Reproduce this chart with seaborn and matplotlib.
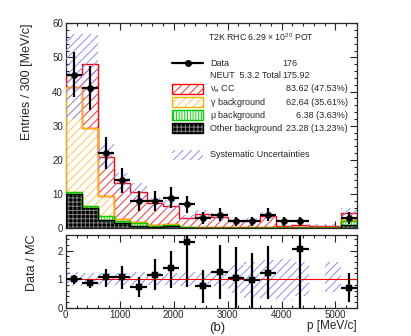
import numpy as np
import seaborn as sns
import matplotlib
matplotlib.use("Agg")
import matplotlib.pyplot as plt
from matplotlib.patches import Rectangle
from matplotlib.lines import Line2D
from matplotlib.ticker import MultipleLocator

# bins of reconstructed momentum (MeV/c)
bin_edges = [0, 300, 600, 900, 1200, 1500, 1800, 2100, 2400, 2700, 3000,
             3300, 3600, 3900, 4200, 4500, 4800, 5100, 5400]

# observed events and their errors
data = [45, 41, 22, 14, 8, 8, 9, 7, 3, 4, 2, 2, 4, 2, 2, 0, 0, 3]
data_err = [6.7, 6.4, 4.7, 3.7, 2.8, 2.8, 3.0, 2.6, 1.7, 2.0, 1.4, 1.4,
            2.0, 1.4, 1.4, 0, 0, 1.7]

# MC prediction, by component (stack order bottom -> top)
other_bkg = [10.0, 6.0, 2.4, 1.5, 0.8, 0.3, 0.6, 0.1, 0.1, 0.1, 0.1, 0.1,
             0.1, 0.1, 0.1, 0.1, 0.1, 1.1]
mu_bkg = [0.5, 0.5, 1.1, 0.5, 0.7, 0.3, 0.5, 0.2, 0.1, 0.1, 0.1, 0.1,
          0.1, 0.1, 0.1, 0.1, 0.1, 1.0]
gamma_bkg = [31.0, 23.0, 6.0, 0.6, 0.3, 0.3, 0.2, 0.1, 0.1, 0.1, 0.1, 0.1,
             0.1, 0.1, 0.1, 0.1, 0.1, 0.3]
nue_cc = [3.5, 18.5, 11.5, 10.8, 8.9, 6.4, 5.3, 2.7, 3.9, 3.1, 1.7, 1.8,
          3.2, 0.3, 0.7, 0.5, 0.5, 2.2]

# systematic uncertainty band on the total prediction
sys_lo = [32, 38, 17.5, 10.8, 8.3, 5.6, 5.0, 2.3, 3.0, 2.5, 1.3, 1.3,
          2.4, 0.3, 0.5, 0.4, 0.4, 3.4]
sys_hi = [57, 57, 24.7, 16.1, 13.3, 9.0, 8.2, 3.9, 5.5, 4.4, 2.7, 2.9,
          4.9, 0.9, 1.4, 1.2, 1.2, 6.0]

# ratio panel
ratio = [1.0, 0.86, 1.06, 1.07, 0.74, 1.13, 1.39, 2.3, 0.75, 1.25, 1.05,
         0.97, 1.22, np.nan, 2.07, np.nan, np.nan, 0.7]
ratio_lo = [0.83, 0.70, 0.74, 0.66, 0.39, 0.62, 0.68, 0.72, 0.18, 0.32, 0.0,
            0.0, 0.32, np.nan, 0.0, np.nan, np.nan, 0.2]
ratio_hi = [1.16, 0.98, 1.37, 1.48, 1.09, 1.71, 2.0, 2.6, 1.32, 2.2, 2.12,
            1.93, 2.17, np.nan, 2.6, np.nan, np.nan, 1.2]
rsys_lo = [0.75, 0.78, 0.8, 0.8, 0.78, 0.78, 0.78, 0.76, 0.76, 0.76, 0.5,
           0.35, 0.3, 0.28, 0.4, np.nan, 0.55, np.nan]
rsys_hi = [1.25, 1.22, 1.2, 1.22, 1.24, 1.22, 1.22, 1.24, 1.25, 1.25, 1.5,
           1.6, 1.68, 1.7, 1.6, np.nan, 1.62, np.nan]

legend_rows = [
    ("Data", "176"),
    ("NEUT  5.3.2 Total", "175.92"),
    (r"$\mathregular{\nu_e}$ CC", "83.62 (47.53%)"),
    (r"$\mathregular{\gamma}$ background", "62.64 (35.61%)"),
    (r"$\mathregular{\mu}$ background", "6.38 (3.63%)"),
    ("Other background", "23.28 (13.23%)"),
]

sns.set_style("ticks")
plt.rcParams["font.family"] = ["Liberation Sans", "DejaVu Sans"]
plt.rcParams["hatch.linewidth"] = 0.7
plt.rcParams["mathtext.fontset"] = "custom"
plt.rcParams["mathtext.rm"] = "Liberation Sans"

edges = np.array(bin_edges)
lefts = edges[:-1]
width = 300
centers = lefts + width / 2
SYS = "#8c8cff"

# (values, hatch colour, line colour, hatch, face)
layers = [
    (other_bkg, "0.5", "black", "++++", "black"),
    (mu_bkg, "#00dd00", "#00cc00", "||||||", "white"),
    (gamma_bkg, "#ffc860", "#ffb000", "////", "white"),
    (nue_cc, "#ff3030", "red", "////", "white"),
]

fig = plt.figure(figsize=(4.11, 3.36), dpi=100)
ax = fig.add_axes([0.16, 0.3205, 0.7088, 0.6102])
ax2 = fig.add_axes([0.16, 0.0842, 0.7088, 0.2164])

# stacked MC
bottom = np.zeros(len(lefts))
boxes = []
for vals, hcol, lcol, hatch, face in layers:
    top = bottom + np.array(vals)
    boxes.append((bottom.copy(), top, hcol, lcol, hatch, face))
    bottom = top
for bot, top, hcol, lcol, hatch, face in reversed(boxes):
    ax.stairs(top, edges, baseline=bot, fill=True, facecolor=face,
              edgecolor=hcol, hatch=hatch, linewidth=0, zorder=2)
    ax.stairs(top, edges, baseline=bot, fill=False, edgecolor=lcol,
              linewidth=1.0, zorder=3)

# systematics
ax.stairs(sys_hi, edges, baseline=sys_lo, fill=True, facecolor="none",
          edgecolor=SYS, hatch="////", linewidth=0, zorder=4)

# data points
d = np.array(data, dtype=float)
mask = d > 0
ax.errorbar(centers[mask], d[mask], xerr=width / 2,
            yerr=np.array(data_err)[mask], fmt="none", ecolor="black",
            elinewidth=1.6, capsize=0, zorder=5)
sns.scatterplot(x=centers[mask], y=d[mask], color="black", marker="o",
                s=20, edgecolor="black", ax=ax, zorder=6)

ax.set_xlim(0, 5400)
ax.set_ylim(0, 60)
ax.xaxis.set_major_locator(MultipleLocator(1000))
ax.xaxis.set_minor_locator(MultipleLocator(200))
ax.yaxis.set_major_locator(MultipleLocator(10))
ax.yaxis.set_minor_locator(MultipleLocator(2))
ax.tick_params(labelbottom=False)
ax.set_ylabel("Entries / 300 [MeV/c]", fontsize=9, loc="top")
ax.yaxis.set_label_coords(-0.112, 1.0)

# legend, drawn by hand to keep the two text columns
tr = ax.transAxes
ax.text(0.488, 0.933, r"T2K RHC 6.29 $\mathregular{\times}$ 10$^{\mathregular{20}}$ POT",
        transform=tr, fontsize=6.3, va="center")
row_y = [0.806, 0.743, 0.680, 0.616, 0.552, 0.489]
bx0, bx1, bh = 0.365, 0.471, 0.05
for i, (name, val) in enumerate(legend_rows):
    y = row_y[i]
    ax.text(0.495, y, name, transform=tr, fontsize=6.5, va="center")
    if i < 2:
        ax.text(0.743, y, val, transform=tr, fontsize=6.5, va="center")
    else:
        ax.text(0.968, y, val, transform=tr, fontsize=6.5, va="center",
                ha="right")
ax.add_line(Line2D([bx0, bx1], [row_y[0], row_y[0]], transform=tr,
                   color="black", lw=1.6, zorder=7))
ax.add_line(Line2D([(bx0 + bx1) / 2], [row_y[0]], transform=tr,
                   color="black", marker="o", markersize=4, zorder=7))
for j, (vals, hcol, lcol, hatch, face) in enumerate(reversed(layers)):
    y = row_y[2 + j]
    ax.add_patch(Rectangle((bx0, y - bh / 2), bx1 - bx0, bh, transform=tr,
                           facecolor=face, edgecolor=hcol, hatch=hatch,
                           linewidth=0, zorder=7))
    ax.add_patch(Rectangle((bx0, y - bh / 2), bx1 - bx0, bh, transform=tr,
                           fill=False, edgecolor=lcol, linewidth=1.0, zorder=7))
ax.add_patch(Rectangle((bx0, 0.358 - bh / 2), bx1 - bx0, bh, transform=tr,
                       fill=False, edgecolor=SYS, hatch="////",
                       linewidth=0, zorder=7))
ax.text(0.495, 0.358, "Systematic Uncertainties", transform=tr, fontsize=6.5,
        va="center")

# ratio panel
ax2.stairs(rsys_hi, edges, baseline=rsys_lo, fill=True, facecolor="none",
           edgecolor=SYS, hatch="////", linewidth=0, zorder=2)
ax2.axhline(1, color="red", lw=0.8, zorder=3)
r = np.array(ratio)
ok = ~np.isnan(r)
ax2.errorbar(centers[ok], r[ok], xerr=width / 2,
             yerr=[r[ok] - np.array(ratio_lo)[ok], np.array(ratio_hi)[ok] - r[ok]],
             fmt="none", ecolor="black", elinewidth=1.6, capsize=0, zorder=4)
sns.scatterplot(x=centers[ok], y=r[ok], color="black", marker="s", s=18,
                edgecolor="black", ax=ax2, zorder=5)
ax2.set_xlim(0, 5400)
ax2.set_ylim(0, 2.55)
ax2.xaxis.set_major_locator(MultipleLocator(1000))
ax2.xaxis.set_minor_locator(MultipleLocator(200))
ax2.yaxis.set_major_locator(MultipleLocator(1))
ax2.yaxis.set_minor_locator(MultipleLocator(0.2))
ax2.set_ylabel("Data / MC", fontsize=9, loc="top")
ax2.yaxis.set_label_coords(-0.095, 1.0)
ax2.text(1.0, -0.25, "p [MeV/c]", transform=ax2.transAxes, fontsize=8.5,
         ha="right", va="center")
ax2.text(0.52, -0.285, "(b)", transform=ax2.transAxes, fontsize=9.5,
         ha="center", va="center")

for a in (ax, ax2):
    a.tick_params(which="both", direction="in", top=True, right=True,
                  labelsize=7, width=0.8, pad=2)
    a.tick_params(which="major", length=5)
    a.tick_params(which="minor", length=2.5)
    for s in a.spines.values():
        s.set_linewidth(0.9)

fig.savefig("out.png", dpi=100)
